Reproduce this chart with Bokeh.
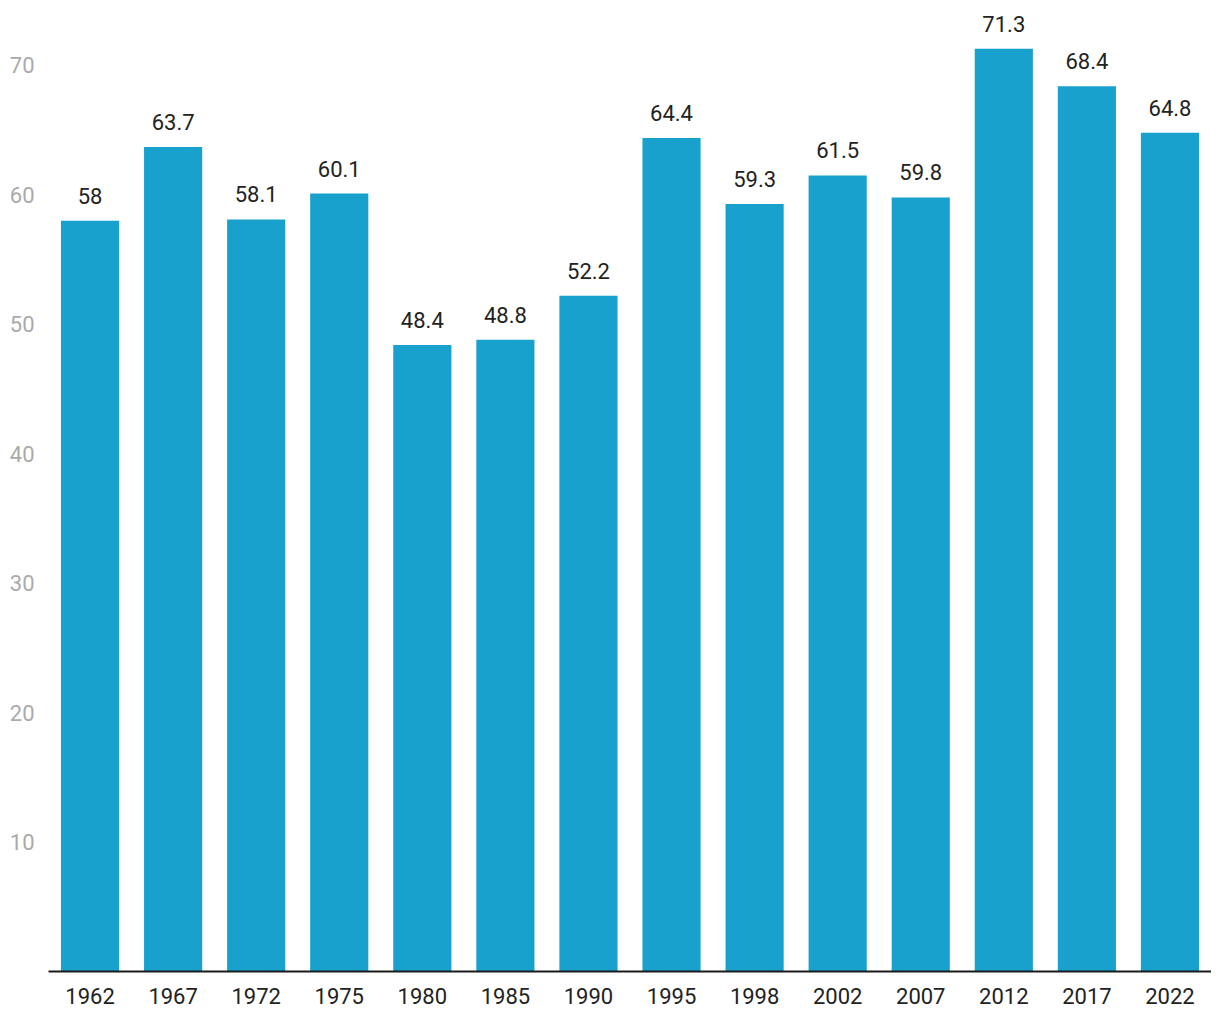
from bokeh.plotting import figure
from bokeh.models import ColumnDataSource, LabelSet, Range1d, FactorRange, FixedTicker
from bokeh.core.properties import value
from bokeh.embed import file_html
from bokeh.resources import INLINE

years = ["1962", "1967", "1972", "1975", "1980", "1985", "1990", "1995",
         "1998", "2002", "2007", "2012", "2017", "2022"]
values = [58, 63.7, 58.1, 60.1, 48.4, 48.8, 52.2, 64.4, 59.3, 61.5, 59.8, 71.3, 68.4, 64.8]
labels = ["58", "63.7", "58.1", "60.1", "48.4", "48.8", "52.2", "64.4",
          "59.3", "61.5", "59.8", "71.3", "68.4", "64.8"]
y_ticks = [10, 20, 30, 40, 50, 60, 70]

src = ColumnDataSource(dict(x=years, top=values, label=labels))

p = figure(x_range=FactorRange(*years, range_padding=0), y_range=Range1d(0, 74.4),
           width=1211, height=1014, output_backend="svg", toolbar_location=None,
           min_border_left=48, min_border_right=0, min_border_top=8, min_border_bottom=43)
p.outline_line_color = None
p.xgrid.grid_line_color = None
p.ygrid.grid_line_color = None

p.vbar(x="x", top="top", width=0.7, source=src, color="#19a1cd", line_color=None)

lab = LabelSet(x="x", y="top", text="label", source=src, text_align="center",
               text_baseline="bottom", y_offset=17, text_font=value("Roboto"),
               text_font_size="22px", text_color="#222222")
p.add_layout(lab)

p.yaxis.ticker = FixedTicker(ticks=y_ticks)
p.yaxis.axis_line_color = None
p.yaxis.major_tick_line_color = None
p.yaxis.minor_tick_line_color = None
p.yaxis.major_label_text_font = "Roboto"
p.yaxis.major_label_text_font_size = "22px"
p.yaxis.major_label_text_color = "#aaaaaa"
p.yaxis.major_label_standoff = 8

p.xaxis.axis_line_color = "#1a1a1a"
p.xaxis.axis_line_width = 2
p.xaxis.major_tick_line_color = None
p.xaxis.minor_tick_line_color = None
p.xaxis.major_label_text_font = "Roboto"
p.xaxis.major_label_text_font_size = "22px"
p.xaxis.major_label_text_color = "#222222"
p.xaxis.major_label_standoff = 10

open("out.html", "w").write(file_html(p, INLINE))
